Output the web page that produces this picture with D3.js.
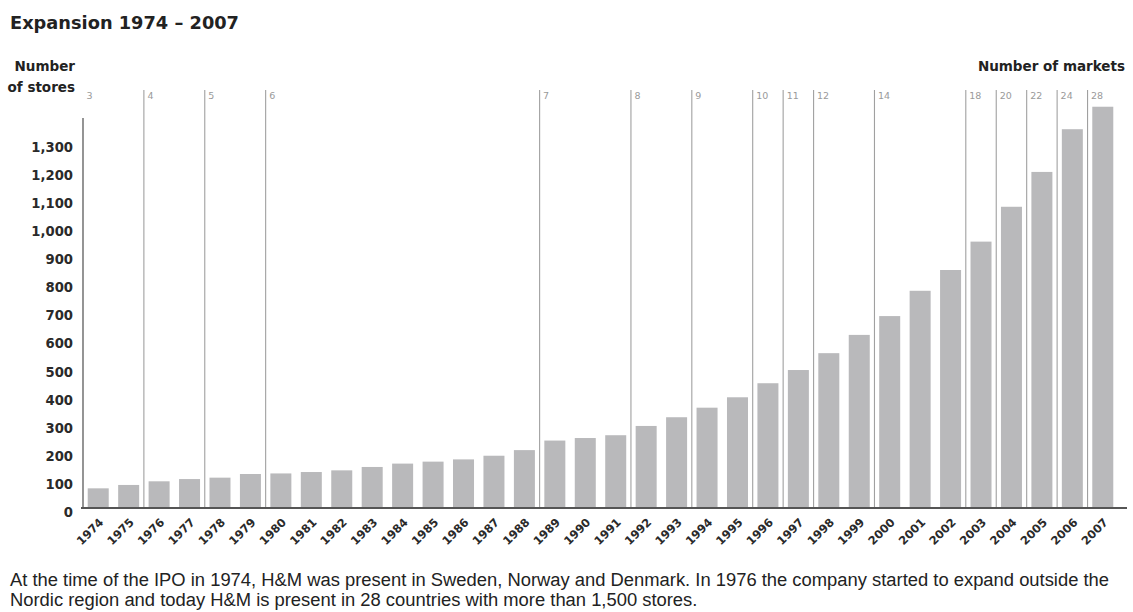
<!DOCTYPE html>
<html>
<head>
<meta charset="utf-8">
<script src="https://cdn.jsdelivr.net/npm/d3@7"></script>
<style>
  html, body { margin: 0; padding: 0; background: #fff; }
  svg { display: block; }
</style>
</head>
<body>
<svg id="chart" width="1133" height="612"></svg>
<script>
// ---- data ----
const years = [1974,1975,1976,1977,1978,1979,1980,1981,1982,1983,1984,1985,1986,1987,1988,1989,1990,1991,1992,1993,1994,1995,1996,1997,1998,1999,2000,2001,2002,2003,2004,2005,2006,2007];
const stores = [70,82,95,103,108,121,123,128,134,146,158,165,173,186,206,240,249,259,292,323,357,394,444,491,551,616,683,773,847,948,1072,1196,1348,1428];
const marketYears = [1974,1976,1978,1980,1989,1992,1994,1996,1997,1998,2000,2003,2004,2005,2006,2007];
const marketCounts = [3,4,5,6,7,8,9,10,11,12,14,18,20,22,24,28];
const yTicks = [0,100,200,300,400,500,600,700,800,900,1000,1100,1200,1300];
const titleText = "Expansion 1974 \u2013 2007";
const footerLines = [
  "At the time of the IPO in 1974, H&M was present in Sweden, Norway and Denmark. In 1976 the company started to expand outside the",
  "Nordic region and today H&M is present in 28 countries with more than 1,500 stores."
];

// ---- drawing ----
const svg = d3.select("#chart");
const baseY = 508;
const x = d3.scaleBand().domain(years).range([83, 1118]).paddingInner(0.31).paddingOuter(0.155);
const y = d3.scaleLinear().domain([0, 1300]).range([baseY, baseY - 1300 * 0.281]);
const gapHalf = x.step() * x.paddingInner() / 2;

const BOLD = "'DejaVu Sans', sans-serif";

// title
svg.append("text").attr("x", 10).attr("y", 28.5)
  .attr("font-family", BOLD).attr("font-weight", "bold").attr("font-size", 17.8)
  .attr("fill", "#222").text(titleText);

// axis titles
svg.append("text").attr("x", 75).attr("y", 71).attr("text-anchor", "end")
  .attr("font-family", BOLD).attr("font-weight", "bold").attr("font-size", 13.5).attr("fill", "#222").text("Number");
svg.append("text").attr("x", 75).attr("y", 91.5).attr("text-anchor", "end")
  .attr("font-family", BOLD).attr("font-weight", "bold").attr("font-size", 13.5).attr("fill", "#222").text("of stores");
svg.append("text").attr("x", 1125).attr("y", 71).attr("text-anchor", "end")
  .attr("font-family", BOLD).attr("font-weight", "bold").attr("font-size", 13.5).attr("fill", "#222").text("Number of markets");

// bars
svg.append("g").selectAll("rect").data(years).join("rect")
  .attr("x", d => x(d))
  .attr("width", x.bandwidth())
  .attr("y", (d, i) => y(stores[i]))
  .attr("height", (d, i) => baseY - y(stores[i]))
  .attr("fill", "#b9b9bb");

// market lines and labels
const mk = svg.append("g");
marketYears.forEach((yr, i) => {
  const lx = x(yr) - gapHalf;
  const first = i === 0;
  mk.append("line")
    .attr("x1", lx).attr("x2", lx)
    .attr("y1", first ? 118 : 90).attr("y2", baseY)
    .attr("stroke", first ? "#7a7a7a" : "#a0a0a0")
    .attr("stroke-width", first ? 1.6 : 1.1);
  mk.append("text")
    .attr("x", lx + 3.5).attr("y", 99)
    .attr("font-family", "'DejaVu Sans', sans-serif").attr("font-size", 9.5)
    .attr("fill", "#9a9a9a").text(marketCounts[i]);
});

// y axis labels
const yAxis = d3.axisLeft(y).tickValues(yTicks).tickSize(0).tickPadding(0)
  .tickFormat(d3.format(","));
const gy = svg.append("g").attr("transform", "translate(73,0)").call(yAxis);
gy.select(".domain").remove();
gy.selectAll("text")
  .attr("font-family", BOLD).attr("font-weight", "bold").attr("font-size", 13.2)
  .attr("fill", "#2a2a2a").attr("dy", "0.72em").attr("y", -1);

// baseline
svg.append("line").attr("x1", 81).attr("x2", 1127).attr("y1", baseY).attr("y2", baseY)
  .attr("stroke", "#555").attr("stroke-width", 2);

// x axis labels (rotated)
const xAxis = d3.axisBottom(x).tickSize(0).tickPadding(0);
const gx = svg.append("g").attr("transform", `translate(0,${baseY})`).call(xAxis);
gx.select(".domain").remove();
gx.selectAll("text")
  .attr("font-family", BOLD).attr("font-weight", "bold").attr("font-size", 11.5)
  .attr("fill", "#2a2a2a")
  .attr("text-anchor", "end")
  .attr("dy", 0).attr("y", 0)
  .attr("transform", "translate(6,15) rotate(-45)");

// footer
const ft = svg.append("g");
footerLines.forEach((t, i) => {
  ft.append("text").attr("x", 10).attr("y", 586 + i * 20)
    .attr("font-family", "'Liberation Sans', Arial, sans-serif").attr("font-size", 16)
    .attr("fill", "#222").text(t);
});
// fit footer font so the first line spans the same width as in the original
const n0 = ft.select("text").node();
const w0 = n0.getComputedTextLength();
const fs = 16 * 1100 / w0;
ft.selectAll("text").attr("font-size", fs);
</script>
</body>
</html>
